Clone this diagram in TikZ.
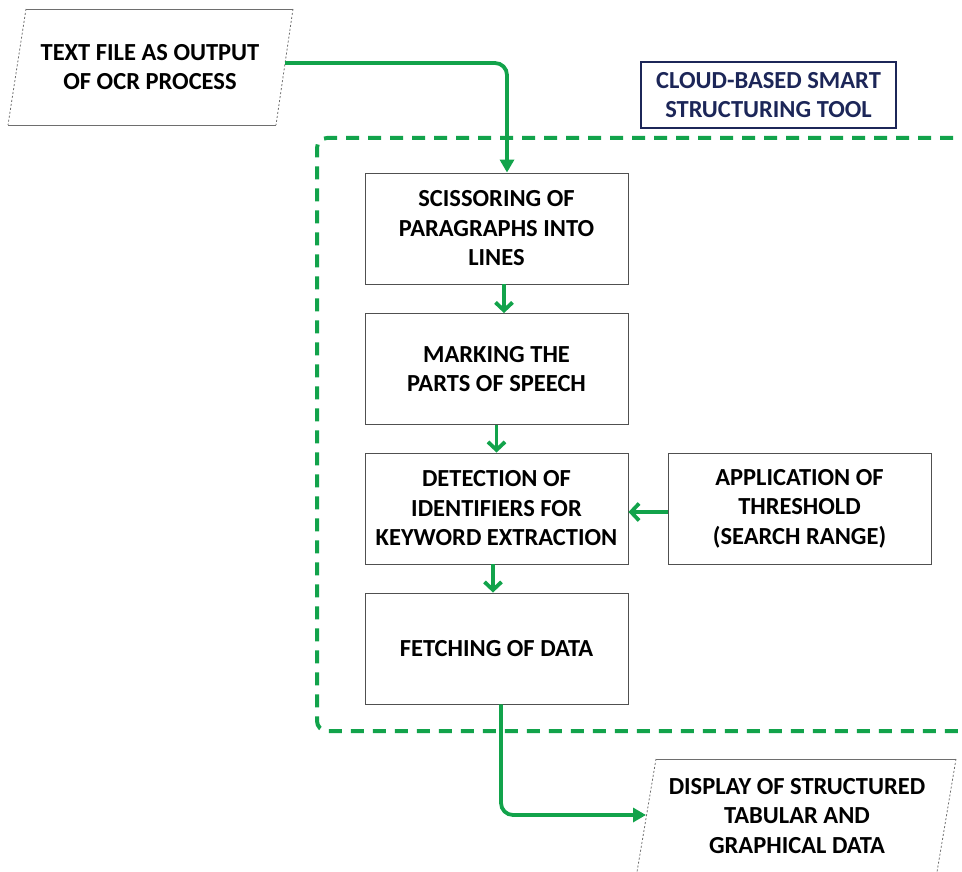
\documentclass[tikz,border=0pt]{standalone}
\usepackage{fontspec}
\setmainfont{Carlito}
\usetikzlibrary{arrows.meta}
\definecolor{flowgreen}{RGB}{18,163,75}
\definecolor{navytext}{RGB}{28,38,88}
\definecolor{edgegray}{RGB}{80,80,80}
\definecolor{sidegray}{RGB}{110,110,110}
\newcommand{\boxfont}{\fontsize{24.5}{29.5}\selectfont\bfseries}
\begin{document}
\begin{tikzpicture}[x=1pt,y=-1pt,
  stepbox/.style={draw=edgegray, line width=0.9pt, minimum width=263pt, minimum height=111pt, align=center, font=\boxfont, inner sep=0pt},
  plaintext/.style={align=center, font=\boxfont, inner sep=0pt},
  titlebox/.style={draw=navytext, line width=1.2pt, minimum width=255pt, minimum height=66pt, align=center, font=\boxfont, text=navytext, inner sep=0pt},
  solidedge/.style={draw=sidegray, line width=0.9pt},
  dottededge/.style={draw=sidegray, line width=0.8pt, dash pattern=on 2pt off 2pt},
  flowline/.style={draw=flowgreen, line width=3.8pt},
  trihead/.style={flowline, -{Triangle[length=13pt,width=14pt]}},
  barbhead/.style={flowline, -{Straight Barb[length=8pt,width=17pt,line width=3.8pt]}},
  groupframe/.style={draw=flowgreen, line width=4pt, dash pattern=on 13pt off 9pt, rounded corners=10pt}
]
\useasboundingbox (0,0) rectangle (962,872);
\clip (0,0) rectangle (962,872);

% dashed group frame
\draw[groupframe] (975,138) -- (317,138) -- (317,731) -- (975,731);

% title
\node[titlebox] (title) at (768.5,95) {CLOUD-BASED SMART\\STRUCTURING TOOL};

% input parallelogram
\draw[solidedge] (26,9) -- (293,9);
\draw[solidedge] (8,125) -- (276,125);
\draw[dottededge] (26,9) -- (8,125);
\draw[dottededge] (293,9) -- (276,125);
\node[plaintext] (intext) at (150,67) {TEXT FILE AS OUTPUT\\OF OCR PROCESS};
\coordinate (inR) at (285,63);

% output parallelogram
\draw[solidedge] (656,759) -- (956,759);
\draw[dottededge] (656,759) -- (637,872);
\draw[dottededge] (956,759) -- (937,872);
\node[plaintext] (outtext) at (797,816) {DISPLAY OF STRUCTURED\\TABULAR AND\\GRAPHICAL DATA};
\coordinate (outL) at (646,815);

% process boxes
\node[stepbox] (b1) at (496.5,228.5) {SCISSORING OF\\PARAGRAPHS INTO\\LINES};
\node[stepbox] (b2) at (496.5,369) {MARKING THE\\PARTS OF SPEECH};
\node[stepbox] (b3) at (496.5,508.5) {DETECTION OF\\IDENTIFIERS FOR\\KEYWORD EXTRACTION};
\node[stepbox] (b4) at (799.5,508.5) {APPLICATION OF\\THRESHOLD\\(SEARCH RANGE)};
\node[stepbox] (b5) at (496.5,648.5) {FETCHING OF DATA};

% connectors
\draw[trihead, rounded corners=12pt] (inR) -| ([xshift=10.5pt]b1.north);
\draw[barbhead] ([xshift=7.5pt]b1.south) -- ([xshift=7.5pt]b2.north);
\draw[barbhead] (b2.south) -- (b3.north);
\draw[barbhead] ([yshift=-3.5pt]b4.west) -- ([yshift=-3.5pt]b3.east);
\draw[barbhead] ([xshift=-3.5pt]b3.south) -- ([xshift=-3.5pt]b5.north);
\draw[trihead, rounded corners=12pt] ([xshift=4.5pt]b5.south) |- (outL);
\end{tikzpicture}
\end{document}
